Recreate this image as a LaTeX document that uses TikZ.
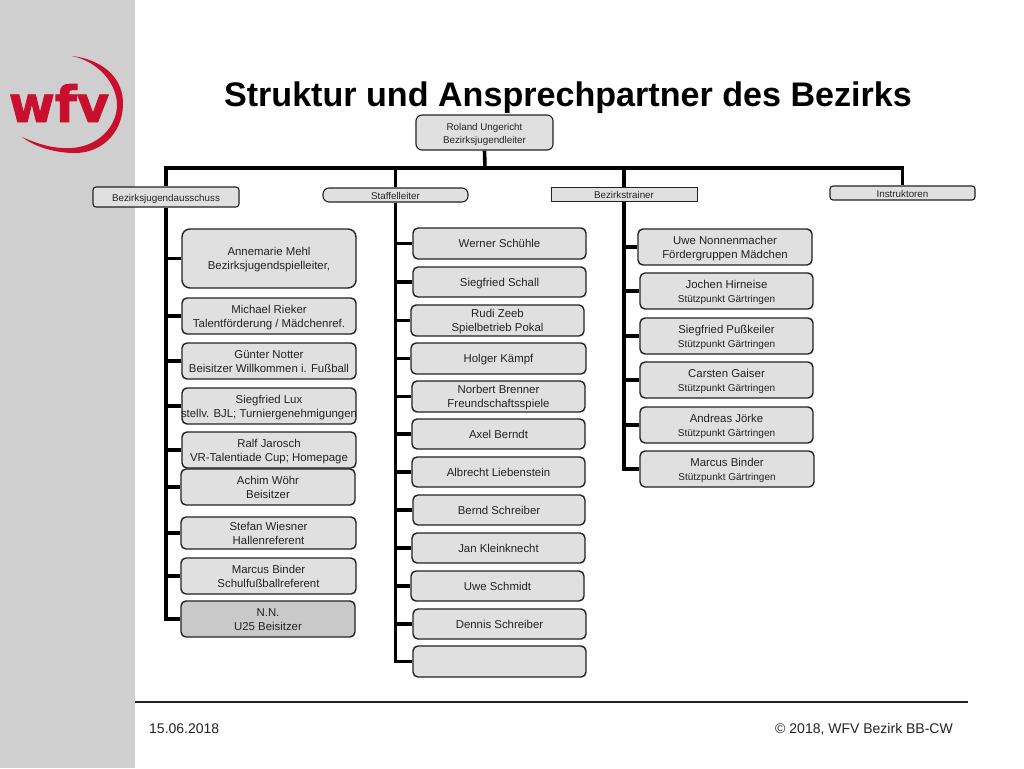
\documentclass[tikz,border=0pt]{standalone}
\usepackage{fontspec}
\setmainfont{Liberation Sans}
\newfontfamily\logofont[UprightFont=* Bold,FakeBold=1.6]{DejaVu Sans}
\usetikzlibrary{backgrounds}
\definecolor{boxfill}{HTML}{E0E0E0}
\definecolor{boxdark}{HTML}{C9C9C9}
\definecolor{sidebar}{HTML}{CFCFCF}
\definecolor{wfvred}{HTML}{C8102E}
\definecolor{ink}{HTML}{222222}
\newcommand{\bx}[7][]{\node[orgbox,#1,minimum width=#4-#2,minimum height=#5-#3] (#6) at ({(#2+#4)/2},{(#3+#5)/2}) {\makebox[0pt][c]{\raisebox{-1.6pt}[\height][\depth]{\begin{tabular}{@{}c@{}}#7\end{tabular}}}};}
\newcommand{\sm}[1]{{\fontsize{10}{13}\selectfont #1}}
\tikzset{
  x=1pt,y=-1pt,
  orgbox/.style={draw=ink,line width=1.4pt,fill=boxfill,rounded corners=5pt,inner sep=0pt,text=ink,
    font=\fontsize{11.4}{14}\selectfont},
  headbox/.style={font=\fontsize{9.8}{13}\selectfont,line width=1.1pt},
  trunk/.style={line width=3.6pt,black,line cap=butt},
  footer/.style={font=\fontsize{14}{16}\selectfont,text=ink,inner sep=0pt}
}
\begin{document}
\begin{tikzpicture}
\useasboundingbox (0,0) rectangle (1024,768);
% logo
\node[inner sep=0pt,anchor=base,text=wfvred,font=\logofont\fontsize{50}{50}\selectfont] (logo) at (59,122) {wfv};
\fill[wfvred] (72,56) .. controls (105,60) and (124,80) .. (123,105) .. controls (122,135) and (100,153) .. (75,153) .. controls (55,153) and (35,147) .. (22,137) .. controls (40,145) and (55,149) .. (72,148) .. controls (100,146) and (117,125) .. (117,105) .. controls (117,85) and (100,62) .. (72,56) -- cycle;
% title
\node[inner sep=0pt,anchor=base,text=black,font=\fontsize{34.1}{36}\selectfont\bfseries] (title) at (568,106) {Struktur und Ansprechpartner des Bezirks};
% head boxes
\bx[headbox,rounded corners=6pt]{416}{115}{553}{150}{root}{Roland Ungericht\\Bezirksjugendleiter}
\bx[headbox,rounded corners=3pt]{93}{187}{239}{207}{aus}{Bezirksjugendausschuss}
\bx[headbox,rounded corners=6pt]{323}{188}{468}{202}{staff}{Staffelleiter}
\bx[headbox,rounded corners=0pt,line width=0.8pt]{551}{187}{697}{201}{train}{Bezirkstrainer}
\bx[headbox,rounded corners=3pt]{830}{186}{975}{200}{inst}{Instruktoren}
% column 1
\bx[rounded corners=8pt]{182}{229}{356}{288}{a1}{Annemarie Mehl\\Bezirksjugendspielleiter,}
\bx{182}{298}{356}{334}{a2}{Michael Rieker\\Talentförderung / Mädchenref.}
\bx{182}{343}{356}{379}{a3}{Günter Notter\\Beisitzer Willkommen i. Fußball}
\bx{182}{388}{356}{424}{a4}{Siegfried Lux\\stellv. BJL; Turniergenehmigungen}
\bx{182}{432}{356}{468}{a5}{Ralf Jarosch\\VR-Talentiade Cup; Homepage}
\bx{181}{469}{355}{505}{a6}{Achim Wöhr\\Beisitzer}
\bx{181}{517}{356}{549}{a7}{Stefan Wiesner\\Hallenreferent}
\bx{181}{558}{356}{594}{a8}{Marcus Binder\\Schulfußballreferent}
\bx[fill=boxdark]{181}{601}{355}{637}{a9}{N.N.\\U25 Beisitzer}
% column 2
\bx{413}{228}{586}{259}{b1}{Werner Schühle}
\bx{413}{267}{586}{297}{b2}{Siegfried Schall}
\bx{411}{305}{584}{336}{b3}{Rudi Zeeb\\Spielbetrieb Pokal}
\bx{411}{343}{586}{374}{b4}{Holger Kämpf}
\bx{412}{381}{585}{412}{b5}{Norbert Brenner\\Freundschaftsspiele}
\bx{412}{419}{585}{449}{b6}{Axel Berndt}
\bx{412}{457}{585}{487}{b7}{Albrecht Liebenstein}
\bx{413}{495}{585}{525}{b8}{Bernd Schreiber}
\bx{412}{533}{585}{563}{b9}{Jan Kleinknecht}
\bx{411}{571}{584}{601}{b10}{Uwe Schmidt}
\bx{413}{609}{586}{639}{b11}{Dennis Schreiber}
\bx{413}{646}{586}{677}{b12}{}
% column 3
\bx{638}{229}{812}{265}{c1}{Uwe Nonnenmacher\\Fördergruppen Mädchen}
\bx{640}{273}{813}{309}{c2}{Jochen Hirneise\\\sm{Stützpunkt Gärtringen}}
\bx{640}{318}{813}{354}{c3}{Siegfried Pußkeiler\\\sm{Stützpunkt Gärtringen}}
\bx{640}{362}{813}{398}{c4}{Carsten Gaiser\\\sm{Stützpunkt Gärtringen}}
\bx{640}{407}{813}{443}{c5}{Andreas Jörke\\\sm{Stützpunkt Gärtringen}}
\bx{640}{451}{814}{487}{c6}{Marcus Binder\\\sm{Stützpunkt Gärtringen}}
% footer
\node[footer,anchor=base west] (date) at (149,733) {15.06.2018};
\node[footer,anchor=base east] (copy) at (953,733) {© 2018, WFV Bezirk BB-CW};
\coordinate (ruleL) at (135,702);
\coordinate (ruleR) at (968,702);
\draw[line width=1.8pt,ink] (ruleL) -- (ruleR);
\begin{scope}[on background layer]
\fill[sidebar] (0,0) rectangle (135,768);
\coordinate (bus) at (485,168);
\draw[trunk] (root.south) -- (bus);
\draw[trunk,line join=miter] (aus.north) |- (bus) -| (inst.north);
\draw[trunk] (staff.north |- bus) -- (staff.north);
\draw[trunk] (train.north |- bus) -- (train.north);
\draw[trunk] (aus.south) |- (a9.west);
\foreach \n in {a1,a2,a3,a4,a5,a6,a7,a8} \draw[trunk] (aus.south |- \n.west) -- (\n.west);
\draw[trunk] (staff.south) |- (b12.west);
\foreach \n in {b1,b2,b3,b4,b5,b6,b7,b8,b9,b10,b11} \draw[trunk] (staff.south |- \n.west) -- (\n.west);
\draw[trunk] (train.south) |- (c6.west);
\foreach \n in {c1,c2,c3,c4,c5} \draw[trunk] (train.south |- \n.west) -- (\n.west);
\end{scope}
\end{tikzpicture}
\end{document}
